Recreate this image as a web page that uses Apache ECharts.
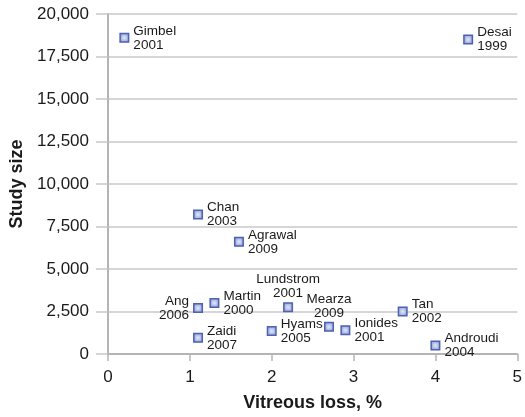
<!DOCTYPE html>
<html>
<head>
<meta charset="utf-8">
<script src="https://cdn.jsdelivr.net/npm/echarts@6/dist/echarts.min.js"></script>
<style>html,body{margin:0;padding:0;background:#fff}#c{width:525px;height:417px}</style>
</head>
<body>
<div id="c"></div>
<script>
const studies = ['Gimbel','Desai','Chan','Agrawal','Ang','Martin','Lundstrom','Mearza','Tan','Zaidi','Hyams','Ionides','Androudi'];
const years = ['2001','1999','2003','2009','2006','2000','2001','2009','2002','2007','2005','2001','2004'];
const vitreousLoss = [0.2, 4.4, 1.1, 1.6, 1.1, 1.3, 2.2, 2.7, 3.6, 1.1, 2.0, 2.9, 4.0];
const studySize = [18600, 18500, 8200, 6600, 2700, 3000, 2750, 1600, 2500, 950, 1350, 1400, 500];
const xTicks = [0, 1, 2, 3, 4, 5];
const yTicks = [0, 2500, 5000, 7500, 10000, 12500, 15000, 17500, 20000];

const labelSide = {Ang: 'left', Lundstrom: 'top', Mearza: 'top'};

const chart = echarts.init(document.getElementById('c'), null, {renderer: 'canvas'});
const fontFamily = '"Liberation Sans", Arial, Helvetica, sans-serif';
const grid = '#c8c8c8';
const axisCol = '#b4b4b4';
const textCol = '#1a1a1a';

const data = studies.map((n, i) => {
  const pos = labelSide[n] || 'right';
  return {
    name: n,
    value: [vitreousLoss[i], studySize[i]],
    label: {
      position: pos,
      align: pos === 'left' ? 'right' : (pos === 'top' ? 'center' : 'left'),
      distance: pos === 'top' ? 2 : 4
    }
  };
});

chart.setOption({
  animation: false,
  grid: {left: 107, right: 4, top: 14, bottom: 61, containLabel: false},
  xAxis: {
    type: 'value', min: 0, max: 5, interval: 1,
    name: 'Vitreous loss, %', nameLocation: 'middle', nameGap: 40,
    nameTextStyle: {fontFamily, fontSize: 18, fontWeight: 'bold', color: textCol},
    axisLine: {show: true, onZero: false, lineStyle: {color: axisCol, width: 2}},
    axisTick: {show: true, length: 7, lineStyle: {color: axisCol, width: 1.5}},
    axisLabel: {fontFamily, fontSize: 17, color: textCol, margin: 15,
      formatter: v => xTicks.includes(v) ? String(v) : ''},
    splitLine: {show: false}
  },
  yAxis: {
    type: 'value', min: 0, max: 20000, interval: 2500,
    name: 'Study size', nameLocation: 'middle', nameGap: 82,
    nameTextStyle: {fontFamily, fontSize: 18, fontWeight: 'bold', color: textCol},
    axisLine: {show: true, lineStyle: {color: axisCol, width: 2}},
    axisTick: {show: true, length: 12, lineStyle: {color: grid, width: 1.5}},
    axisLabel: {fontFamily, fontSize: 17, color: textCol, margin: 19,
      formatter: v => yTicks.includes(v) ? v.toLocaleString('en-US') : ''},
    splitLine: {show: true, lineStyle: {color: grid, width: 1.5}}
  },
  series: [{
    type: 'scatter',
    symbol: 'rect',
    symbolSize: 8.5,
    itemStyle: {
      color: {type: 'radial', x: 0.5, y: 0.5, r: 0.6, colorStops: [
        {offset: 0, color: '#e4e8f8'}, {offset: 1, color: '#7f92d2'}]},
      borderColor: '#4d62b0', borderWidth: 1.5, opacity: 1
    },
    label: {
      show: true, fontFamily, fontSize: 13.5, color: textCol, lineHeight: 14,
      formatter: p => p.name + '\n' + years[p.dataIndex]
    },
    data: data
  }]
});
</script>
</body>
</html>
